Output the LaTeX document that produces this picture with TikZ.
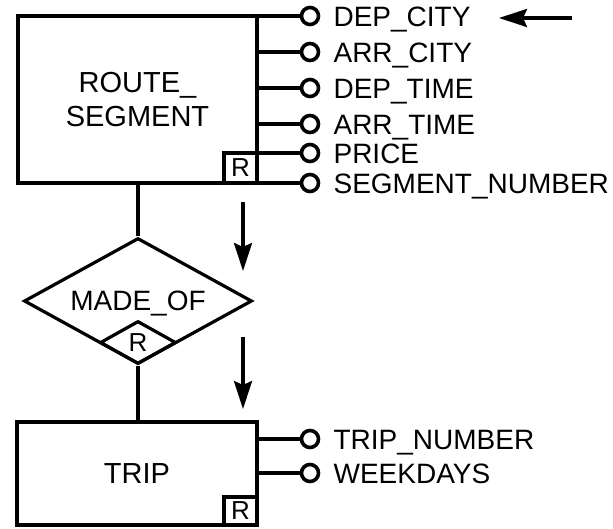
\documentclass[tikz,border=0pt]{standalone}
\usepackage{fontspec}
\setmainfont{Liberation Sans}
\usetikzlibrary{shapes.geometric,arrows.meta}
\newcommand{\erfont}{\fontsize{28}{32}\selectfont}
\newcommand{\entfont}{\fontsize{29}{34}\selectfont}
\newcommand{\rtagfont}{\fontsize{26}{28}\selectfont}
\begin{document}
\begin{tikzpicture}[x=1pt,y=-1pt, line width=3.2pt,
  entity/.style={draw, rectangle, inner sep=0pt, align=center, font=\entfont},
  rtag/.style={draw, rectangle, inner sep=0pt, minimum width=33pt, minimum height=30pt, font=\rtagfont},
  attrc/.style={draw, circle, inner sep=0pt, minimum size=17pt, fill=white, line width=3.6pt},
  attrt/.style={anchor=base west, inner sep=0pt, font=\erfont},
  reldia/.style={draw, diamond, inner sep=0pt},
  flow/.style={line width=3.2pt, -{Stealth[length=28pt,width=18pt,inset=4pt]}}
]
\useasboundingbox (0,0) rectangle (613,528);

% ROUTE_SEGMENT entity
\node[entity, minimum width=239pt, minimum height=167pt] (rs) at (137.5,99.5) {ROUTE\_\\SEGMENT};
\node[rtag, anchor=south east] (rsr) at (rs.south east) {R};

\foreach \y/\n/\t in {16/a1/DEP\_CITY, 52/a2/ARR\_CITY, 88/a3/DEP\_TIME, 124/a4/ARR\_TIME, 153/a5/PRICE, 183/a6/SEGMENT\_NUMBER}{
  \node[attrc] (\n) at (310,\y) {};
  \node[attrt] (\n t) at (332,\y+10) {\t};
  \draw (rs.east |- \n) -- (\n);
}

% arrow pointing at DEP_CITY
\coordinate (ka) at (572,18);
\coordinate (kb) at (499,18);
\draw[flow] (ka) -- (kb);

% MADE_OF relationship
\node[reldia, minimum width=228pt, minimum height=126pt] (mo) at (138,301) {};
\node[font=\erfont, inner sep=0pt] (mot) at (138,304) {MADE\_OF};
\node[reldia, minimum width=76pt, minimum height=43pt, anchor=south, font=\rtagfont] (mor) at (mo.south) {R};

\draw (mo.north |- rs.south) -- (mo.north);

% TRIP entity
\node[entity, minimum width=240pt, minimum height=103pt] (trip) at (137,473.5) {TRIP};
\node[rtag, anchor=south east, minimum height=28pt] (tripr) at (trip.south east) {R};
\draw (mo.south) -- (mo.south |- trip.north);

\foreach \y/\n/\t in {439/b1/TRIP\_NUMBER, 473/b2/WEEKDAYS}{
  \node[attrc] (\n) at (310,\y) {};
  \node[attrt] (\n t) at (332,\y+10) {\t};
  \draw (trip.east |- \n) -- (\n);
}

% direction arrows
\coordinate (d1s) at (243,202);
\coordinate (d1e) at (243,271);
\coordinate (d2s) at (243,337);
\coordinate (d2e) at (243,409);
\draw[flow] (d1s) -- (d1e);
\draw[flow] (d2s) -- (d2e);
\end{tikzpicture}
\end{document}
